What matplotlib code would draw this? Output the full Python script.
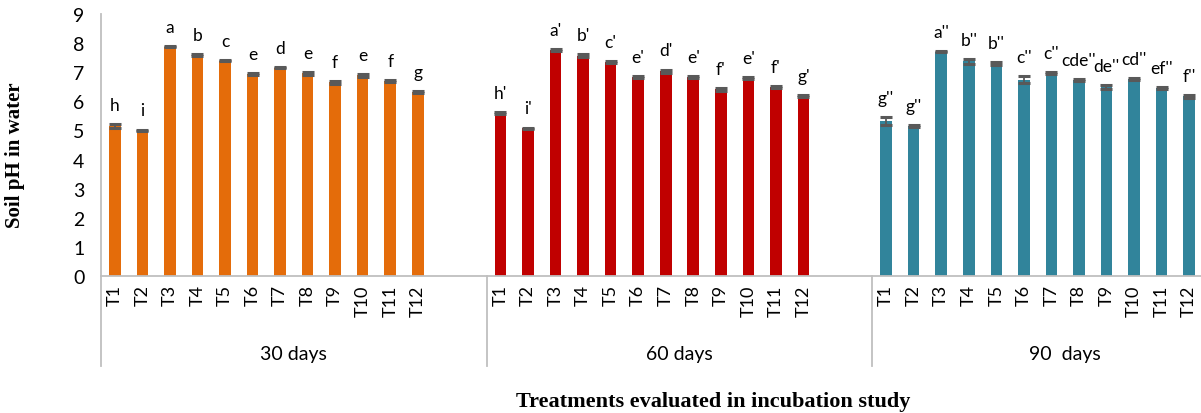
import numpy as np
import matplotlib.pyplot as plt

# data
treatments = ["T1", "T2", "T3", "T4", "T5", "T6", "T7", "T8", "T9", "T10", "T11", "T12"]
periods = ["30 days", "60 days", "90  days"]
colors = ["#E46C0A", "#C00000", "#31849B"]

ph_30 = [5.14, 5.00, 7.88, 7.58, 7.40, 6.94, 7.16, 6.96, 6.65, 6.89, 6.70, 6.31]
ph_60 = [5.60, 5.07, 7.77, 7.57, 7.34, 6.84, 7.04, 6.83, 6.42, 6.80, 6.48, 6.18]
ph_90 = [5.32, 5.16, 7.71, 7.37, 7.31, 6.75, 6.98, 6.73, 6.49, 6.76, 6.45, 6.17]

err_30 = [0.07, 0.03, 0.03, 0.03, 0.03, 0.04, 0.03, 0.04, 0.04, 0.06, 0.04, 0.03]
err_60 = [0.03, 0.03, 0.04, 0.04, 0.03, 0.04, 0.05, 0.03, 0.05, 0.04, 0.03, 0.04]
err_90 = [0.14, 0.04, 0.03, 0.08, 0.05, 0.12, 0.03, 0.04, 0.06, 0.04, 0.03, 0.04]

letters_30 = ["h", "i", "a", "b", "c", "e", "d", "e", "f", "e", "f", "g"]
letters_60 = ["h'", "i'", "a'", "b'", "c'", "e'", "d'", "e'", "f'", "e'", "f'", "g'"]
letters_90 = ["g''", "g''", "a''", "b''", "b''", "c''", "c''", "cde''", "de''", "cd''", "ef''", "f''"]

values = [ph_30, ph_60, ph_90]
errors = [err_30, err_60, err_90]
letters = [letters_30, letters_60, letters_90]

plt.rcParams["font.family"] = ["Lato", "DejaVu Sans"]

fig = plt.figure(figsize=(12.01, 4.14), dpi=100)
# plot area runs past the right edge like the original (cropped)
ax = fig.add_axes([101 / 1201, 137 / 414, 1157 / 1201, 262 / 414])

slots = len(treatments) + 2  # two blank categories after each period
for g in range(3):
    x = np.arange(len(treatments)) + g * slots
    ax.bar(x, values[g], width=0.42, color=colors[g], zorder=2)
    ax.errorbar(x, values[g], yerr=errors[g], fmt="none", ecolor="#595959",
                elinewidth=1.3, capsize=4.2, capthick=2.2, zorder=3)
    for xi, v, e, lab in zip(x, values[g], errors[g], letters[g]):
        ax.annotate(lab, (xi, v + e), xytext=(0, 8), textcoords="offset points",
                    ha="center", va="bottom", fontsize=12.5)

ax.set_xlim(-0.5, 3 * slots - 0.5)
ax.set_ylim(0, 9)
ax.set_yticks(range(10))
ax.tick_params(axis="y", length=0, pad=12, labelsize=14)

xt = [g * slots + i for g in range(3) for i in range(len(treatments))]
ax.set_xticks(xt)
ax.set_xticklabels(treatments * 3, rotation=90, fontsize=13)
ax.tick_params(axis="x", length=0, pad=6)

for s in ["top", "right"]:
    ax.spines[s].set_visible(False)
for s in ["left", "bottom"]:
    ax.spines[s].set_color("#BFBFBF")
    ax.spines[s].set_linewidth(1.3)

# period separators and labels under the axis
for g in range(4):
    ax.plot([g * slots - 0.5] * 2, [0, -0.345], transform=ax.get_xaxis_transform(),
            color="#BFBFBF", lw=1.3, clip_on=False)
for g in range(3):
    ax.text(g * slots + 6.5, -0.295, periods[g], transform=ax.get_xaxis_transform(),
            ha="center", va="center", fontsize=14)

ax.set_ylabel("Soil pH in water", family="Liberation Serif", fontweight="bold", fontsize=15)
ax.yaxis.set_label_coords(-0.066, 0.466)
fig.text(713 / 1201, 1 - 402 / 414, "Treatments evaluated in incubation study",
         family="Liberation Serif", fontweight="bold", fontsize=16, ha="center", va="center")

fig.savefig("out.png", dpi=100)
